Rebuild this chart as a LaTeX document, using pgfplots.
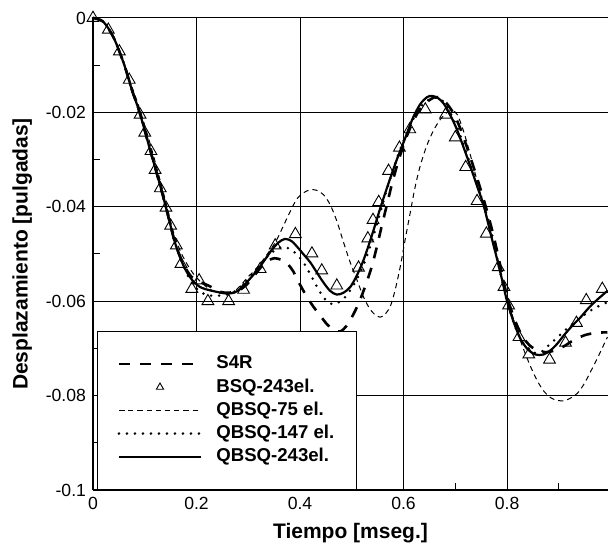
\documentclass[border=0pt]{standalone}
\usepackage{fontspec}
\setmainfont{Liberation Sans}
\usepackage{pgfplots}
\pgfplotsset{compat=1.18}

\begin{document}
\begin{tikzpicture}
\path[use as bounding box] (-46.5pt,-29.5pt) rectangle (257.5pt,245pt);
\begin{axis}[
  at={(0pt,0pt)}, anchor=south west,
  scale only axis, width=257.5pt, height=236pt,
  xmin=0, xmax=0.995, ymin=-0.1, ymax=0,
  axis lines=left, axis line style={-, line width=0.9pt},
  clip=false,
  xtick={0,0.2,0.4,0.6,0.8}, xticklabels={0,0.2,0.4,0.6,0.8},
  minor xtick={0.1,0.3,0.5,0.7,0.9},
  ytick={-0.1,-0.08,-0.06,-0.04,-0.02,0},
  yticklabels={-0.1,-0.08,-0.06,-0.04,-0.02,0},
  minor ytick={-0.09,-0.07,-0.05,-0.03,-0.01},
  tick align=inside, major tick length=3.5pt, minor tick length=3.5pt,
  tick style={black, line width=0.5pt},
  grid=major, major grid style={black, line width=0.5pt},
  ticklabel style={font=\fontsize{8.8}{10}\selectfont},
  label style={font=\fontsize{10.5}{12}\selectfont\bfseries},
  xlabel={Tiempo [mseg.]},
  ylabel={Desplazamiento [pulgadas]},
  legend cell align=left,
  legend image code/.code={\draw[mark repeat=2,mark phase=2,#1] plot coordinates {(0pt,0pt) (20.5pt,0pt) (41pt,0pt)};},
  legend style={at={(axis cs:0.0077,-0.1)}, anchor=south west,
    draw=black, line width=0.6pt, fill=white,
    inner xsep=10pt, inner ysep=10.5pt, column sep=6pt, row sep=0pt,
    nodes={inner sep=1pt, text height=7.3pt, text depth=2.3pt,
      font=\fontsize{9.3}{11}\selectfont\bfseries}},
]
% S4R
\addplot[black, line width=1.3pt, dash pattern=on 5.5pt off 5pt, smooth] coordinates {
(0,0) (0.02,-0.0008) (0.04,-0.0042) (0.06,-0.0098) (0.075,-0.0152) (0.09,-0.0200)
(0.11,-0.0278) (0.13,-0.0356) (0.143,-0.0410) (0.159,-0.0478) (0.175,-0.0522)
(0.19,-0.0548) (0.207,-0.0559) (0.225,-0.0568) (0.245,-0.0580) (0.262,-0.0582)
(0.28,-0.0578) (0.295,-0.0567) (0.31,-0.0548) (0.323,-0.0530) (0.337,-0.0515)
(0.35,-0.0509) (0.363,-0.0512) (0.375,-0.0520) (0.387,-0.0537) (0.40,-0.0565)
(0.413,-0.0590) (0.426,-0.0612) (0.44,-0.0632) (0.453,-0.0650) (0.466,-0.0661)
(0.478,-0.0664) (0.49,-0.0652) (0.503,-0.0628) (0.515,-0.0600) (0.528,-0.0562)
(0.539,-0.0525) (0.549,-0.0482) (0.558,-0.0440) (0.568,-0.0395) (0.578,-0.0350)
(0.59,-0.0303) (0.603,-0.0260) (0.616,-0.0225) (0.63,-0.0196) (0.645,-0.0178)
(0.66,-0.0168) (0.672,-0.0170) (0.684,-0.0182) (0.697,-0.0203) (0.71,-0.0235)
(0.722,-0.0272) (0.735,-0.0315) (0.748,-0.0360) (0.761,-0.0408) (0.774,-0.0462)
(0.787,-0.0525) (0.80,-0.0590) (0.815,-0.0640) (0.83,-0.0675) (0.845,-0.0695)
(0.86,-0.0705) (0.875,-0.0708) (0.89,-0.0705) (0.909,-0.0696) (0.928,-0.0683)
(0.95,-0.0672) (0.972,-0.0667) (0.994,-0.0666)
};
\addlegendentry{S4R}
% BSQ-243el.
\addplot[only marks, mark=triangle, mark size=3.4pt,
  mark options={black, solid, line width=0.45pt},
  legend image post style={mark size=2.1pt}] coordinates {
(0,0) (0.0296,-0.0025) (0.051,-0.0071) (0.070,-0.0131) (0.091,-0.0205)
(0.100,-0.0243) (0.112,-0.0282) (0.120,-0.0322) (0.130,-0.0361) (0.141,-0.0402)
(0.150,-0.0440) (0.161,-0.0482) (0.170,-0.0521) (0.191,-0.0574) (0.205,-0.0556)
(0.222,-0.0600) (0.262,-0.0600) (0.291,-0.0576) (0.323,-0.0532) (0.352,-0.0482)
(0.391,-0.0458) (0.423,-0.0499) (0.442,-0.0535) (0.471,-0.0567) (0.513,-0.0529)
(0.531,-0.0467) (0.541,-0.0428) (0.552,-0.0390) (0.571,-0.0324) (0.592,-0.0275)
(0.612,-0.0236) (0.642,-0.0194) (0.681,-0.0205) (0.700,-0.0253) (0.720,-0.0316)
(0.742,-0.0388) (0.760,-0.0457) (0.783,-0.0528) (0.794,-0.0570) (0.803,-0.0609)
(0.823,-0.0676) (0.842,-0.0713) (0.882,-0.0724) (0.913,-0.0688) (0.934,-0.0646)
(0.953,-0.0598) (0.984,-0.0574)
};
\addlegendentry{BSQ-243el.}
% QBSQ-75 el.
\addplot[black, line width=0.5pt, dash pattern=on 2.6pt off 2pt, smooth] coordinates {
(0,0) (0.02,-0.0008) (0.04,-0.0040) (0.06,-0.0095) (0.075,-0.0145) (0.09,-0.0192)
(0.11,-0.0265) (0.13,-0.0345) (0.143,-0.0400) (0.155,-0.0452) (0.168,-0.0492)
(0.181,-0.0520) (0.194,-0.0542) (0.207,-0.0558) (0.226,-0.0575) (0.245,-0.0583)
(0.26,-0.0584) (0.272,-0.0580) (0.284,-0.0568) (0.3,-0.0548) (0.315,-0.0532)
(0.329,-0.0512) (0.342,-0.0492) (0.355,-0.0470) (0.368,-0.0440) (0.381,-0.0410)
(0.394,-0.0383) (0.407,-0.0370) (0.42,-0.0364) (0.432,-0.0365) (0.445,-0.0374)
(0.458,-0.0395) (0.471,-0.0430) (0.484,-0.0475) (0.497,-0.0518) (0.51,-0.0555)
(0.523,-0.0592) (0.536,-0.0618) (0.549,-0.0632) (0.56,-0.0632) (0.574,-0.0612)
(0.584,-0.0575) (0.594,-0.0525) (0.603,-0.0470) (0.613,-0.0412) (0.622,-0.0360)
(0.632,-0.0314) (0.645,-0.0270) (0.658,-0.0238) (0.671,-0.0215) (0.684,-0.0200)
(0.694,-0.0196) (0.704,-0.0205) (0.716,-0.0240) (0.729,-0.0290) (0.742,-0.0345)
(0.755,-0.0400) (0.768,-0.0455) (0.781,-0.0510) (0.794,-0.0565) (0.807,-0.0618)
(0.82,-0.0665) (0.833,-0.0705) (0.846,-0.0740) (0.859,-0.0770) (0.872,-0.0792)
(0.885,-0.0805) (0.897,-0.0810) (0.91,-0.0811) (0.923,-0.0805) (0.936,-0.0795)
(0.949,-0.0775) (0.961,-0.0750) (0.974,-0.0722) (0.987,-0.0692) (0.994,-0.0676)
};
\addlegendentry{QBSQ-75 el.}
% QBSQ-147 el.
\addplot[black, line width=1.4pt, dash pattern=on 0pt off 4pt, line cap=round, smooth] coordinates {
(0,0) (0.02,-0.0008) (0.04,-0.0042) (0.06,-0.0098) (0.075,-0.0152) (0.09,-0.0200)
(0.11,-0.0278) (0.13,-0.0356) (0.143,-0.0410) (0.159,-0.0478) (0.175,-0.0525)
(0.19,-0.0560) (0.207,-0.0580) (0.225,-0.0588) (0.245,-0.0588) (0.262,-0.0585)
(0.28,-0.0575) (0.297,-0.0556) (0.313,-0.0535) (0.329,-0.0515) (0.345,-0.0497)
(0.358,-0.0488) (0.368,-0.0485) (0.38,-0.0489) (0.393,-0.0500) (0.406,-0.0517)
(0.42,-0.0543) (0.433,-0.0570) (0.446,-0.0593) (0.458,-0.0605) (0.47,-0.0605)
(0.484,-0.0595) (0.497,-0.0577) (0.51,-0.0553) (0.523,-0.0522) (0.536,-0.0482)
(0.549,-0.0435) (0.562,-0.0385) (0.575,-0.0338) (0.588,-0.0295) (0.601,-0.0258)
(0.614,-0.0225) (0.628,-0.0196) (0.642,-0.0178) (0.655,-0.0170) (0.665,-0.0169)
(0.678,-0.0178) (0.69,-0.0200) (0.703,-0.0230) (0.716,-0.0268) (0.729,-0.0310)
(0.742,-0.0352) (0.755,-0.0396) (0.768,-0.0445) (0.78,-0.0505) (0.79,-0.0553)
(0.80,-0.0600) (0.813,-0.0645) (0.826,-0.0680) (0.84,-0.0700) (0.855,-0.0710)
(0.866,-0.0708) (0.877,-0.0697) (0.894,-0.0680) (0.916,-0.0658) (0.936,-0.0640)
(0.961,-0.0620) (0.987,-0.0605) (0.994,-0.0603)
};
\addlegendentry{QBSQ-147 el.}
% QBSQ-243el.
\addplot[black, line width=1.1pt, solid, smooth] coordinates {
(0,0) (0.02,-0.0008) (0.04,-0.0042) (0.06,-0.0098) (0.075,-0.0152) (0.09,-0.0200)
(0.11,-0.0278) (0.13,-0.0356) (0.143,-0.0410) (0.159,-0.0478) (0.175,-0.0525)
(0.19,-0.0553) (0.207,-0.0570) (0.23,-0.0578) (0.262,-0.0584) (0.28,-0.0578)
(0.297,-0.0560) (0.313,-0.0540) (0.329,-0.0517) (0.345,-0.0492) (0.358,-0.0476)
(0.371,-0.0468) (0.384,-0.0473) (0.397,-0.0488) (0.41,-0.0505) (0.42,-0.0518)
(0.433,-0.0540) (0.445,-0.0560) (0.458,-0.0578) (0.471,-0.0586) (0.484,-0.0582)
(0.497,-0.0570) (0.51,-0.0545) (0.523,-0.0512) (0.539,-0.0460) (0.555,-0.0403)
(0.571,-0.0350) (0.587,-0.0300) (0.603,-0.0255) (0.618,-0.0212) (0.632,-0.0183)
(0.645,-0.0168) (0.655,-0.0165) (0.667,-0.0170) (0.678,-0.0182) (0.69,-0.0205)
(0.703,-0.0236) (0.716,-0.0274) (0.729,-0.0314) (0.742,-0.0356) (0.755,-0.0398)
(0.768,-0.0456) (0.78,-0.0508) (0.79,-0.0553) (0.80,-0.0600) (0.813,-0.0645)
(0.826,-0.0680) (0.84,-0.0702) (0.855,-0.0713) (0.87,-0.0713) (0.884,-0.0704)
(0.897,-0.0690) (0.91,-0.0672) (0.926,-0.0652) (0.942,-0.0634) (0.958,-0.0614)
(0.974,-0.0597) (0.994,-0.0578)
};
\addlegendentry{QBSQ-243el.}
\end{axis}
\end{tikzpicture}
\end{document}
